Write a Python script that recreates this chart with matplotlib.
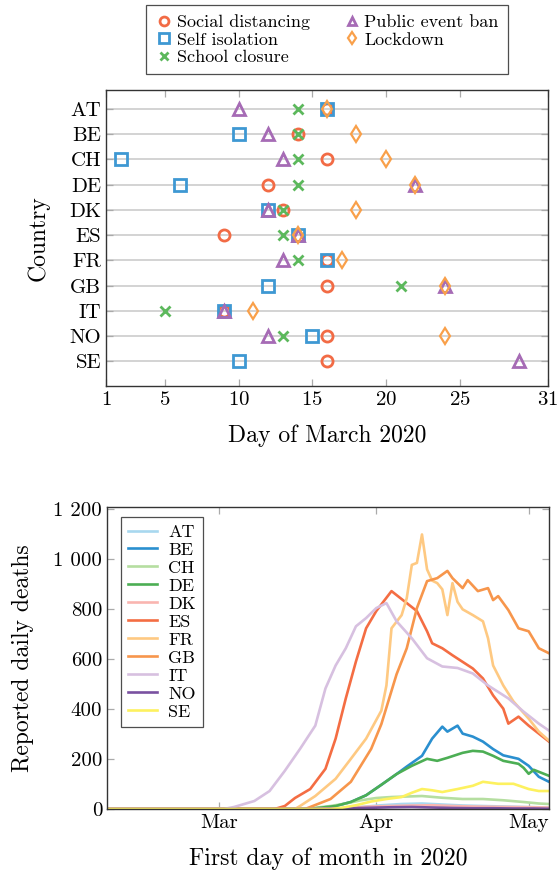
import numpy as np
import matplotlib
matplotlib.use("Agg")
import matplotlib.pyplot as plt
import matplotlib.dates as mdates

plt.rcParams['font.family'] = 'serif'
plt.rcParams['font.serif'] = ['cmr10']
plt.rcParams['axes.formatter.use_mathtext'] = True
plt.rcParams['mathtext.fontset'] = 'cm'

# ---- top panel: intervention dates (day of March 2020) ----
countries = ['AT', 'BE', 'CH', 'DE', 'DK', 'ES', 'FR', 'GB', 'IT', 'NO', 'SE']
social_distancing = [16, 14, 16, 12, 13, 9, 16, 16, 9, 16, 16]
self_isolation = [16, 10, 2, 6, 12, 14, 16, 12, 9, 15, 10]
school_closure = [14, 14, 14, 14, 13, 13, 14, 21, 5, 13, np.nan]
public_event_ban = [10, 12, 13, 22, 12, 14, 13, 24, 9, 12, 29]
lockdown = [16, 18, 20, 22, 18, 14, 17, 24, 11, 24, np.nan]
day_ticks = [1, 5, 10, 15, 20, 25, 31]

# ---- bottom panel: reported daily deaths, days relative to 1 March 2020 ----
at_days = [-22, 20, 24, 28, 32, 36, 40, 44, 48, 52, 56, 60, 65]
at_vals = [0, 0, 3, 8, 15, 20, 22, 18, 14, 12, 10, 8, 6]
be_days = [-22, 18, 20, 23, 26, 29, 32, 35, 37, 40, 42, 44, 45, 47, 48, 50, 52, 54, 56, 59, 61, 63, 65]
be_vals = [0, 0, 5, 12, 28, 55, 97, 140, 170, 213, 282, 330, 310, 334, 302, 290, 270, 240, 215, 201, 173, 129, 109]
ch_days = [-22, 16, 19, 22, 25, 28, 31, 34, 37, 40, 44, 48, 52, 56, 60, 63, 65]
ch_vals = [0, 0, 5, 12, 22, 35, 44, 48, 50, 52, 45, 40, 40, 35, 28, 22, 20]
de_days = [-22, 18, 20, 23, 26, 29, 32, 35, 38, 41, 43, 45, 48, 50, 52, 54, 56, 59, 60, 61, 62, 63, 65]
de_vals = [0, 0, 5, 12, 28, 55, 97, 140, 173, 201, 193, 205, 225, 233, 230, 213, 193, 181, 165, 141, 157, 149, 133]
dk_days = [-22, 18, 22, 26, 30, 34, 38, 42, 46, 50, 54, 58, 62, 65]
dk_vals = [0, 0, 2, 5, 10, 12, 14, 15, 12, 10, 9, 8, 7, 6]
es_days = [-22, 11, 13, 15, 18, 21, 23, 25, 27, 29, 31, 34, 37, 39, 41, 42, 44, 46, 50, 52, 54, 56, 57, 59, 61, 63, 65]
es_vals = [0, 0, 12, 44, 80, 161, 282, 443, 591, 724, 793, 873, 825, 793, 712, 664, 644, 616, 563, 523, 455, 402, 342, 370, 334, 302, 270]
fr_days = [-22, 15, 16, 19, 23, 26, 29, 32, 33, 34, 36, 37, 38, 39, 40, 41, 42, 43, 44, 45, 46, 47, 48, 50, 52, 53, 54, 56, 58, 61, 63, 65]
fr_vals = [0, 0, 12, 52, 121, 201, 282, 394, 495, 724, 777, 845, 978, 986, 1100, 960, 915, 905, 880, 777, 905, 830, 800, 777, 752, 684, 575, 495, 431, 362, 310, 274]
gb_days = [-22, 17, 18, 22, 26, 30, 32, 35, 37, 39, 41, 43, 45, 46, 48, 49, 51, 53, 54, 55, 57, 59, 61, 63, 65]
gb_vals = [0, 0, 8, 40, 109, 241, 340, 540, 644, 805, 913, 925, 954, 925, 885, 917, 873, 885, 837, 853, 797, 724, 712, 644, 624]
it_days = [-22, 1, 3, 7, 10, 13, 16, 19, 21, 23, 25, 27, 29, 31, 33, 35, 38, 41, 44, 47, 50, 53, 57, 60, 63, 65]
it_vals = [0, 0, 8, 32, 72, 153, 241, 334, 483, 575, 644, 732, 765, 805, 825, 752, 684, 604, 571, 565, 543, 495, 443, 390, 342, 314]
no_days = [-22, 18, 22, 26, 30, 34, 38, 42, 46, 50, 54, 58, 62, 65]
no_vals = [0, 0, 1, 3, 5, 7, 8, 6, 4, 3, 3, 2, 2, 1]
se_days = [-22, 22, 24, 27, 30, 33, 36, 38, 40, 42, 44, 47, 50, 52, 55, 58, 61, 63, 65]
se_vals = [0, 0, 4, 15, 30, 40, 48, 65, 80, 75, 68, 80, 93, 109, 101, 101, 80, 72, 72]

death_ticks = [0, 200, 400, 600, 800, 1000, 1200]
death_labels = ['0', '200', '400', '600', '800', '1 000', '1 200']

series = [
    ('AT', at_days, at_vals, '#a8d8ef'),
    ('BE', be_days, be_vals, '#2a8fcf'),
    ('CH', ch_days, ch_vals, '#b5dea0'),
    ('DE', de_days, de_vals, '#4cae54'),
    ('DK', dk_days, dk_vals, '#f9b5b0'),
    ('ES', es_days, es_vals, '#f46d43'),
    ('FR', fr_days, fr_vals, '#fec982'),
    ('GB', gb_days, gb_vals, '#f7964c'),
    ('IT', it_days, it_vals, '#d7c0e0'),
    ('NO', no_days, no_vals, '#7a51a0'),
    ('SE', se_days, se_vals, '#fdf15f'),
]

fig = plt.figure(figsize=(5.59, 8.82), dpi=100)
tick_col = '#aaaaaa'

# ---------------- top ----------------
ax1 = fig.add_axes([106/559, 1-386/882, 442/559, 296/882])
ypos = np.arange(len(countries))
for y in ypos:
    ax1.axhline(y, color='#c8c8c8', lw=1.1, zorder=0)

ax1.plot(social_distancing, ypos, 'o', ms=8, mfc='none', mec='#f26b45', mew=2, label='Social distancing', zorder=3)
ax1.plot(self_isolation, ypos, 's', ms=8.5, mfc='none', mec='#3e98d3', mew=2, label='Self isolation', zorder=3)
ax1.plot(school_closure, ypos, 'x', ms=7.5, mec='#5cb85c', mew=2, label='School closure', zorder=4)
ax1.plot(public_event_ban, ypos, '^', ms=8, mfc='none', mec='#a66bb5', mew=2, label='Public event ban', zorder=4)
ax1.plot(lockdown, ypos, 'd', ms=8, mfc='none', mec='#f9a04a', mew=1.6, label='Lockdown', zorder=5)

ax1.set_xlim(1, 31)
ax1.set_ylim(10.98, -0.75)
ax1.set_xticks(day_ticks)
ax1.set_yticks(ypos)
ax1.set_yticklabels(countries)
ax1.tick_params(direction='in', top=True, right=True, length=5, width=0.9, color=tick_col, labelsize=15)
ax1.set_xlabel('Day of March 2020', fontsize=17, labelpad=11)
ax1.set_ylabel('Country', fontsize=17, labelpad=14)
for s in ax1.spines.values():
    s.set_color('#333333')
    s.set_linewidth(1)
leg1 = ax1.legend(ncol=2, loc='lower center', bbox_to_anchor=(0.5, 1.054), borderaxespad=0,
                  fontsize=13, frameon=True, fancybox=False, edgecolor='#222222',
                  handletextpad=0.2, columnspacing=1.8, labelspacing=0.1, handlelength=1.0,
                  borderpad=0.5, markerscale=0.8)
leg1.get_frame().set_linewidth(0.9)

# ---------------- bottom ----------------
ax2 = fig.add_axes([107/559, 1-809/882, 442/559, 302/882])
base = np.datetime64('2020-03-01')
for name, days, vals, col in series:
    x = base + np.array(days).astype('timedelta64[D]')
    ax2.plot(x, vals, color=col, lw=1.9, label=name)

ax2.set_xlim(np.datetime64('2020-02-08'), np.datetime64('2020-05-05'))
ax2.set_ylim(0, 1210)
ax2.set_xticks([np.datetime64('2020-03-01'), np.datetime64('2020-04-01'), np.datetime64('2020-05-01')])
ax2.xaxis.set_major_formatter(mdates.DateFormatter('%b'))
ax2.set_yticks(death_ticks)
ax2.set_yticklabels(death_labels)
ax2.tick_params(direction='in', top=True, right=True, length=5, width=0.9, color=tick_col, labelsize=15)
ax2.set_xlabel('First day of month in 2020', fontsize=17, labelpad=11)
ax2.set_ylabel('Reported daily deaths', fontsize=17, labelpad=14)
for s in ax2.spines.values():
    s.set_color('#333333')
    s.set_linewidth(1)
leg2 = ax2.legend(loc='upper left', bbox_to_anchor=(0.032, 0.967), borderaxespad=0,
                  fontsize=13, frameon=True, fancybox=False, edgecolor='#222222',
                  handlelength=1.6, handletextpad=0.6, labelspacing=0.13)
leg2.get_frame().set_linewidth(0.9)

fig.savefig('out.png', dpi=100)
